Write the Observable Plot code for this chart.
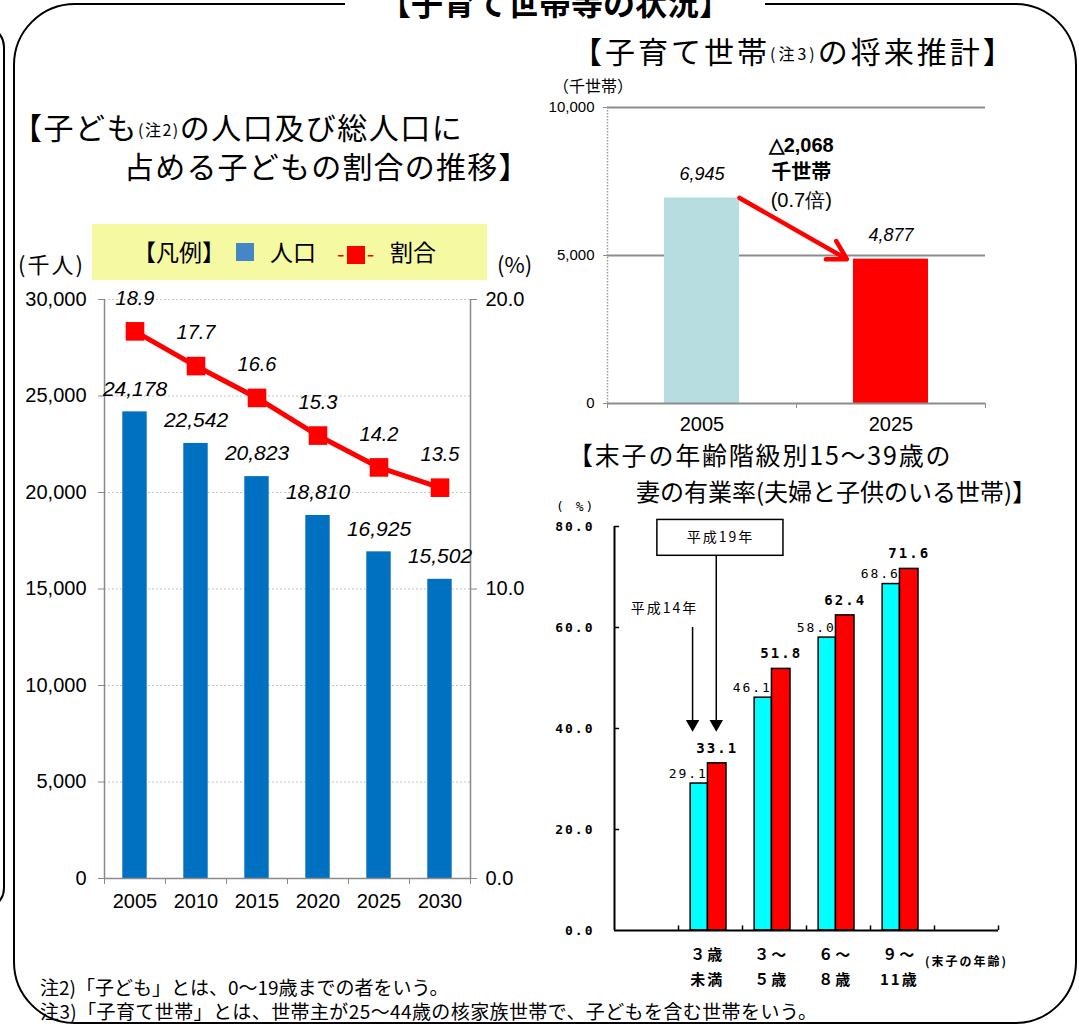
<!DOCTYPE html>
<html><head><meta charset="utf-8">
<script src="https://cdn.jsdelivr.net/npm/d3@7"></script>
<script src="https://cdn.jsdelivr.net/npm/@observablehq/plot@0.6"></script>
<style>
body{margin:0;background:#fff;}
#page{position:relative;width:1079px;height:1026px;overflow:hidden;font-family:"Liberation Sans","Noto Sans CJK JP",sans-serif;color:#000;background:#fff;}
.abs{position:absolute;white-space:nowrap;line-height:1;}
.jp{font-family:"Noto Sans CJK JP",sans-serif;}
.note{font-size:16px;position:relative;top:-3px;}
.frame{position:absolute;border:2px solid #000;box-sizing:border-box;}
.chart{position:absolute;}
.chart svg{overflow:visible;}
</style></head><body><div id="page">
<div class="frame" style="left:-200px;top:25px;width:205px;height:885px;border-radius:22px;"></div>
<div class="frame" style="left:13px;top:3px;width:1064px;height:1021px;border-radius:62px;"></div>
<div class="abs jp" style="left:345px;top:-16px;width:420px;text-align:center;background:#fff;font-size:32px;font-weight:bold;line-height:34px;">【子育て世帯等の状況】</div>

<div class="abs jp" style="left:12px;top:111px;font-size:30px;letter-spacing:1.5px;">【子ども<span class="note">(注2)</span>の人口及び総人口に</div>
<div class="abs jp" style="left:124px;top:150px;font-size:30px;letter-spacing:1.2px;">占める子どもの割合の推移】</div>
<div class="abs jp" style="left:92px;top:224px;width:395px;height:56px;background:#f4f9a2;"></div>
<div class="abs jp" style="left:133px;top:240px;font-size:23px;">【凡例】</div>
<div class="abs" style="left:236px;top:243px;width:18px;height:18px;background:#4486c6;"></div>
<div class="abs jp" style="left:270px;top:240px;font-size:23px;">人口</div>
<div class="abs jp" style="left:337px;top:241px;font-size:22px;color:#ff0000;">-<span style="display:inline-block;width:18px;height:18px;background:#ff0000;vertical-align:-2px;margin:0 2px;"></span>-</div>
<div class="abs jp" style="left:390px;top:240px;font-size:23px;">割合</div>
<div class="abs jp" style="left:18px;top:252px;font-size:22px;letter-spacing:2px;">(千人)</div>
<div class="abs jp" style="left:497px;top:252px;font-size:22px;">(%)</div>

<div class="abs jp" style="left:572px;top:35px;font-size:30px;letter-spacing:3px;">【子育て世帯<span class="note">(注3)</span>の将来推計】</div>
<div class="abs jp" style="left:553px;top:77px;font-size:16px;">（千世帯）</div>

<div class="abs jp" style="left:568px;top:442px;font-size:25px;letter-spacing:1.8px;">【末子の年齢階級別15～39歳の</div>
<div class="abs jp" style="left:636px;top:479px;font-size:24px;">妻の有業率(夫婦と子供のいる世帯)】</div>
<div class="abs" style="left:556px;top:500px;font-size:13px;font-family:'DejaVu Sans Mono',monospace;letter-spacing:2px;">( %)</div>
<div class="abs jp" style="left:925px;top:955px;font-size:12px;font-weight:bold;letter-spacing:2px;">(末子の年齢)</div>

<div class="abs jp" style="left:40px;top:977px;font-size:19px;">注2)「子ども」とは、0～19歳までの者をいう。</div>
<div class="abs jp" style="left:40px;top:1001px;font-size:19px;letter-spacing:0.4px;">注3)「子育て世帯」とは、世帯主が25～44歳の核家族世帯で、子どもを含む世帯をいう。</div>

<div id="c1" class="chart" style="left:0px;top:280px;"></div>
<div id="c2" class="chart" style="left:540px;top:95px;"></div>
<div id="c3" class="chart" style="left:540px;top:500px;"></div>
</div>
<script>
// ---- data ----
const years = [2005, 2010, 2015, 2020, 2025, 2030];
const childPop = [24178, 22542, 20823, 18810, 16925, 15502];
const childShare = [18.9, 17.7, 16.6, 15.3, 14.2, 13.5];

const hhYears = [2005, 2025];
const hhCount = [6945, 4877];
const hhColors = ["#b7dde1", "#ff0000"];

const ageGroups = ["３歳\n未満", "３～\n５歳", "６～\n８歳", "９～\n11歳"];
const rateH14 = [29.1, 46.1, 58.0, 68.6];
const rateH19 = [33.1, 51.8, 62.4, 71.6];

const fmt = d3.format(",");

// ---- chart 1: children population & share ----
const SCALE = 30000 / 20;
const popData = years.map((y, i) => ({year: y, pop: childPop[i], share: childShare[i]}));
const c1 = Plot.plot({
  width: 540, height: 650,
  marginLeft: 104, marginRight: 70, marginTop: 19, marginBottom: 52,
  style: {fontFamily: '"Liberation Sans", sans-serif', fontSize: "20px", color: "#000", background: "transparent"},
  x: {type: "linear", domain: [2002.5, 2032.5], axis: null},
  y: {domain: [0, 30000], axis: null},
  marks: [
    Plot.gridY({ticks: d3.range(5000, 30001, 5000), stroke: "#c4c4c4", strokeOpacity: 1, strokeDasharray: "2,2"}),
    Plot.rect(popData, {x1: d => d.year - 1, x2: d => d.year + 1, y1: 0, y2: "pop", fill: "#0070c0"}),
    Plot.ruleY([0], {stroke: "#8a8a8a", strokeWidth: 1.5}),
    Plot.ruleX([2002.5, 2032.5], {stroke: "#8a8a8a", strokeWidth: 1.5}),
    Plot.axisY({ticks: d3.range(0, 30001, 5000), tickFormat: fmt, tickSize: 6, tickPadding: 12, stroke: "#8a8a8a", label: null}),
    Plot.axisY({anchor: "right", ticks: [0, 15000, 30000], tickFormat: d => (d / SCALE).toFixed(1), tickSize: 6, tickPadding: 9, stroke: "#8a8a8a", label: null}),
    Plot.axisX({ticks: d3.range(2002.5, 2033, 5), tickFormat: () => "", tickSize: 6, stroke: "#8a8a8a", label: null}),
    Plot.axisX({ticks: years, tickFormat: d => String(d), tickSize: 0, tickPadding: 15, label: null}),
    Plot.line(popData, {x: "year", y: d => d.share * SCALE, stroke: "#ff0000", strokeWidth: 5}),
    Plot.dot(popData, {x: "year", y: d => d.share * SCALE, symbol: "square", r: 10.5, fill: "#ff0000"}),
    Plot.text(popData, {x: "year", y: "pop", text: d => fmt(d.pop), dy: -23, fontStyle: "italic", fontSize: 21}),
    Plot.text(popData, {x: "year", y: d => d.share * SCALE, text: d => d.share.toFixed(1), dy: -33, fontStyle: "italic", fontSize: 20})
  ]
});
document.getElementById("c1").append(c1);

// ---- chart 2: child-rearing households ----
const HW = 3.97;
const hhData = hhYears.map((y, i) => ({year: y, n: hhCount[i], color: hhColors[i]}));
const diff = hhCount[0] - hhCount[1];
const ratio = hhCount[1] / hhCount[0];
const midYear = (hhYears[0] + hhYears[1]) / 2 + 0.5;
const c2 = Plot.plot({
  width: 539, height: 345,
  marginLeft: 67, marginRight: 94, marginTop: 12, marginBottom: 37,
  style: {fontFamily: '"Liberation Sans", sans-serif', fontSize: "15px", color: "#000", background: "transparent"},
  x: {type: "linear", domain: [1995, 2035], axis: null},
  y: {domain: [0, 10000], axis: null},
  color: {type: "identity"},
  marks: [
    Plot.ruleY([5000, 10000], {stroke: "#8c8c8c", strokeWidth: 2}),
    Plot.rect(hhData, {x1: d => d.year - HW, x2: d => d.year + HW, y1: 0, y2: "n", fill: "color"}),
    Plot.ruleY([0], {stroke: "#8c8c8c", strokeWidth: 2}),
    Plot.ruleX([1995], {stroke: "#9a9a9a", strokeWidth: 1.5, strokeDasharray: "1.5,1.5"}),
    Plot.axisY({ticks: [0, 5000, 10000], tickFormat: fmt, tickSize: 4, tickPadding: 9, stroke: "#8c8c8c", label: null}),
    Plot.axisX({ticks: [1995, 2015, 2035], tickFormat: () => "", tickSize: 5, stroke: "#8c8c8c", label: null}),
    Plot.axisX({ticks: hhYears, tickFormat: d => String(d), tickSize: 0, tickPadding: 13, fontSize: 20, label: null}),
    Plot.text(hhData, {x: "year", y: "n", text: d => fmt(d.n), dy: -24, fontStyle: "italic", fontSize: 18}),
    Plot.arrow([0], {x1: hhYears[0] + HW, y1: hhCount[0], x2: hhYears[1] - HW - 0.7, y2: hhCount[1], stroke: "#ff0000", strokeWidth: 4.5, headLength: 7}),
    Plot.text([0], {x: midYear, y: 8716, text: () => "△" + fmt(diff), fontWeight: "bold", fontSize: 20}),
    Plot.text([0], {x: midYear, y: 8716, text: () => "千世帯", dy: 27, fontWeight: "bold", fontSize: 20, fontFamily: "Noto Sans CJK JP"}),
    Plot.text([0], {x: midYear, y: 8716, text: () => "(" + ratio.toFixed(1) + "倍)", dy: 55, fontSize: 20})
  ]
});
document.getElementById("c2").append(c2);

// ---- chart 3: employment rate of wives ----
const ageData = ageGroups.map((g, i) => ({g, i, a: rateH14[i], b: rateH19[i]}));
const c3 = Plot.plot({
  width: 539, height: 500,
  marginLeft: 74, marginRight: 81, marginTop: 26, marginBottom: 70,
  style: {fontFamily: '"DejaVu Sans Mono", monospace', fontSize: "13px", color: "#000", background: "transparent", letterSpacing: "2px"},
  x: {type: "linear", domain: [0, 6], axis: null},
  y: {domain: [0, 80], axis: null},
  marks: [
    Plot.rect(ageData, {x1: d => d.i + 1.19, x2: d => d.i + 1.46, y1: 0, y2: "a", fill: "#00ffff", stroke: "#000", strokeWidth: 1.5}),
    Plot.rect(ageData, {x1: d => d.i + 1.46, x2: d => d.i + 1.75, y1: 0, y2: "b", fill: "#ff0000", stroke: "#000", strokeWidth: 1.5}),
    Plot.ruleY([0], {stroke: "#000", strokeWidth: 2}),
    Plot.ruleX([0], {stroke: "#000", strokeWidth: 2}),
    Plot.ruleY([20, 40, 60, 80], {x1: 0, x2: 0.08, stroke: "#000", strokeWidth: 1.5}),
    Plot.ruleX(d3.range(1, 7), {y1: 0, y2: 0.9, stroke: "#000", strokeWidth: 1.5}),
    Plot.axisY({ticks: [0, 20, 40, 60, 80], tickFormat: d => d.toFixed(1), tickSize: 0, tickPadding: 20, label: null, fontWeight: "bold"}),
    Plot.text(ageData, {x: d => d.i + 1.45, y: 0, text: "g", lineAnchor: "top", dy: 12, lineHeight: 1.65, fontSize: 15, fontFamily: "Noto Sans CJK JP", fontWeight: "bold"}),
    Plot.text(ageData, {x: d => d.i + 1.46, y: "a", text: d => d.a.toFixed(1), textAnchor: "end", dy: -10}),
    Plot.text(ageData, {x: d => d.i + 1.605, y: "b", text: d => d.b.toFixed(1), dy: -15, fontWeight: "bold", fontSize: 14}),
    // annotations
    Plot.rect([0], {x1: 0.67, x2: 2.64, y1: 74.2, y2: 81.3, fill: "#fff", stroke: "#000", strokeWidth: 1.5}),
    Plot.text([0], {x: 1.655, y: 77.75, text: () => "平成19年", fontFamily: "Noto Sans CJK JP", fontSize: 14}),
    Plot.text([0], {x: 0.78, y: 63.7, text: () => "平成14年", fontFamily: "Noto Sans CJK JP", fontSize: 14}),
    Plot.ruleX([1.22], {y1: 60, y2: 41, stroke: "#000", strokeWidth: 1.5}),
    Plot.ruleX([1.59], {y1: 74.2, y2: 41, stroke: "#000", strokeWidth: 1.5}),
    Plot.dot([1.22, 1.59], {x: d => d, y: 40.9, symbol: "triangle", r: 5, fill: "#000", rotate: 180})
  ]
});
document.getElementById("c3").append(c3);
</script>
</body></html>
